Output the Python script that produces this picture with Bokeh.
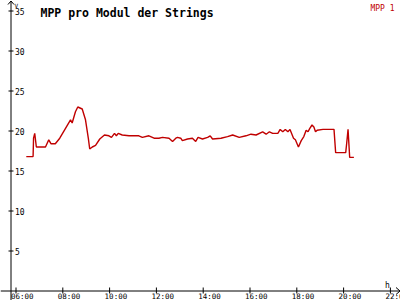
from bokeh.plotting import figure
from bokeh.models import Range1d, Label
from bokeh.core.properties import value
from bokeh.embed import file_html
from bokeh.resources import INLINE

# ---- data ----
times = [6.44, 6.73, 6.75, 6.80, 6.87, 7.26, 7.40, 7.50, 7.68, 7.87,
         8.11, 8.33, 8.40, 8.54, 8.64, 8.83, 8.97, 9.09, 9.15, 9.26,
         9.40, 9.58, 9.78, 9.97, 10.08, 10.21, 10.29, 10.37, 10.54, 10.83,
         11.25, 11.40, 11.68, 11.90, 12.11, 12.26, 12.54, 12.69, 12.83, 12.90,
         13.04, 13.11, 13.33, 13.54, 13.68, 13.78, 13.97, 14.19, 14.30, 14.40,
         14.76, 15.04, 15.26, 15.54, 15.83, 16.04, 16.26, 16.54, 16.69, 16.83,
         16.97, 17.19, 17.29, 17.40, 17.51, 17.62, 17.71, 17.86, 17.94, 18.07,
         18.19, 18.30, 18.40, 18.48, 18.55, 18.65, 18.73, 18.80, 18.87, 19.12,
         19.59, 19.66, 20.09, 20.13, 20.19, 20.26, 20.44]
mpp1 = [16.8, 16.8, 19.1, 19.7, 18.0, 18.0, 18.9, 18.4, 18.4, 19.1,
        20.3, 21.4, 21.0, 22.4, 23.0, 22.75, 21.4, 19.1, 17.75, 18.0,
        18.2, 19.0, 19.5, 19.4, 19.2, 19.7, 19.4, 19.7, 19.5, 19.4,
        19.4, 19.2, 19.4, 19.1, 19.1, 19.2, 19.1, 18.7, 19.1, 19.2,
        19.1, 18.8, 19.0, 19.1, 18.7, 19.2, 19.0, 19.2, 19.4, 19.0,
        19.1, 19.3, 19.5, 19.2, 19.4, 19.6, 19.5, 19.9, 19.6, 19.9,
        19.7, 19.7, 20.2, 19.9, 20.2, 19.9, 20.2, 19.1, 18.9, 18.0,
        18.8, 19.3, 20.1, 19.9, 20.3, 20.75, 20.5, 19.9, 20.1, 20.2,
        20.2, 17.3, 17.3, 18.4, 20.2, 16.7, 16.7]
y_ticks = [5, 10, 15, 20, 25, 30, 35]
x_ticks = [6, 8, 10, 12, 14, 16, 18, 20, 22]
x_tick_labels = ["06:00", "08:00", "10:00", "12:00", "14:00", "16:00",
                 "18:00", "20:00", "22:00"]
title_text = "MPP pro Modul der Strings"
series_name = "MPP 1"
x_unit = "h"
y_unit = "V"

# ---- geometry ----
W, H = 400, 300
PX_PER_H = 23.4
PX_PER_V = 8.0
TICK6_PX = 15.5      # pixel column centre of the 06:00 tick
ZERO_PX = 290.5      # pixel row centre of value 0 (from top)

x_start = 6 - TICK6_PX / PX_PER_H
x_end = x_start + W / PX_PER_H
y_end = ZERO_PX / PX_PER_V
y_start = y_end - H / PX_PER_V


def hx(px):
    return x_start + px / PX_PER_H


def vy(py):
    return (ZERO_PX - py) / PX_PER_V


RED = "#C00000"
MONO = "DejaVu Sans Mono"

p = figure(width=W, height=H, output_backend="svg", toolbar_location=None,
           x_range=Range1d(x_start, x_end), y_range=Range1d(y_start, y_end),
           x_axis_location=None, y_axis_location=None, min_border=0,
           background_fill_color="white", border_fill_color="white",
           outline_line_color=None)
p.grid.visible = False

axis_x = hx(10.5)

# axis lines
p.segment(x0=[axis_x], y0=[y_start], x1=[axis_x], y1=[vy(0.5)],
          line_color="black", line_width=1)
p.segment(x0=[x_start], y0=[0], x1=[hx(399.5)], y1=[0],
          line_color="black", line_width=1)

# arrowheads
p.multi_line(xs=[[hx(7.5), axis_x, hx(13.5)]],
             ys=[[vy(4.0), vy(0.5), vy(4.0)]], line_color="black", line_width=1)
p.multi_line(xs=[[hx(395.5), hx(399.5), hx(395.5)]],
             ys=[[vy(287.0), 0, vy(294.0)]], line_color="black", line_width=1)

# y ticks + labels
p.segment(x0=[hx(8)] * len(y_ticks), y0=y_ticks,
          x1=[hx(13)] * len(y_ticks), y1=y_ticks,
          line_color="black", line_width=1)
p.text(x=[axis_x] * len(y_ticks), y=y_ticks, text=[str(t) for t in y_ticks],
       x_offset=4, text_baseline="middle", text_align="left",
       text_font=value(MONO), text_font_size="8px", text_color="black")

# x ticks + labels
p.segment(x0=x_ticks, y0=[vy(287)] * len(x_ticks),
          x1=x_ticks, y1=[vy(293)] * len(x_ticks),
          line_color="black", line_width=1)
p.text(x=x_ticks, y=[0] * len(x_ticks), text=x_tick_labels,
       x_offset=-5, y_offset=5.5, text_baseline="middle", text_align="left",
       text_font=value(MONO), text_font_size="7.5px", text_color="black")

# unit labels
p.text(x=[hx(384.5)], y=[vy(284.5)], text=[x_unit], text_baseline="alphabetic",
       text_align="left", text_font=value(MONO), text_font_size="8px",
       text_color="black")
p.text(x=[hx(14.0)], y=[vy(5.0)], text=[y_unit], text_baseline="alphabetic",
       text_align="left", text_font=value(MONO), text_font_size="6px",
       text_color="black")

# series
p.line(times, mpp1, line_color=RED, line_width=1.4)

# title and legend
p.add_layout(Label(x=40, y=H - 12, x_units="screen", y_units="screen",
                   text=title_text, text_font=MONO, text_font_style="bold",
                   text_font_size="11.5px", text_color="black",
                   text_baseline="alphabetic"))
p.add_layout(Label(x=394, y=H - 7.5, x_units="screen", y_units="screen",
                   text=series_name, text_font=MONO, text_font_size="8px",
                   text_color=RED, text_align="right",
                   text_baseline="alphabetic"))

open("out.html", "w").write(file_html(p, INLINE))
